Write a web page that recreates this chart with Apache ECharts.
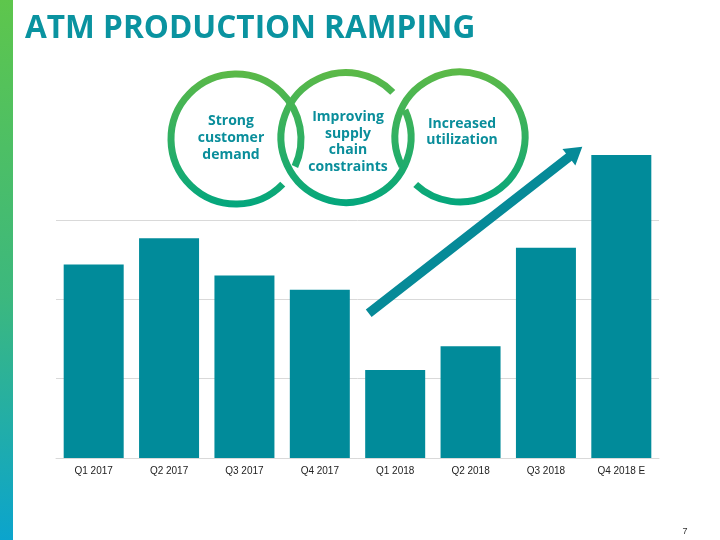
<!DOCTYPE html>
<html>
<head>
<meta charset="utf-8">
<style>
  html, body { margin: 0; padding: 0; background: #ffffff; }
  #chart { width: 720px; height: 540px; }
</style>
<script src="https://cdn.jsdelivr.net/npm/echarts@6/dist/echarts.min.js"></script>
</head>
<body>
<div id="chart"></div>
<script>
// ---- data ----
const categories = ['Q1 2017', 'Q2 2017', 'Q3 2017', 'Q4 2017', 'Q1 2018', 'Q2 2018', 'Q3 2018', 'Q4 2018 E'];
const production = [2.44, 2.77, 2.30, 2.12, 1.11, 1.41, 2.65, 3.82];
const titleText = 'ATM PRODUCTION RAMPING';
const circleTexts = ['Strong\ncustomer\ndemand', 'Improving\nsupply\nchain\nconstraints', 'Increased\nutilization'];
const pageNumber = '7';

const chart = echarts.init(document.getElementById('chart'), null, { renderer: 'canvas' });

const ringGradient = () => new echarts.graphic.LinearGradient(0, 70, 0, 208, [
  { offset: 0, color: '#5cb947' },
  { offset: 1, color: '#02a67e' }
], true);

const deg = d => d * Math.PI / 180;

// rings: center, drawn arc (degrees, clockwise on screen); the missing part is the gap
const rings = [
  { cx: 236, cy: 139, from: 44, to: 385 },
  { cx: 346, cy: 137.5, from: -25, to: 316 },
  { cx: 460, cy: 137, from: 153, to: 493 }
];

const graphics = [];
// left gradient strip
graphics.push({
  type: 'rect', left: 0, top: 0, z: 0,
  shape: { x: 0, y: 0, width: 13, height: 540 },
  style: {
    fill: new echarts.graphic.LinearGradient(0, 0, 0, 1, [
      { offset: 0, color: '#5ec64c' },
      { offset: 0.55, color: '#3cb87e' },
      { offset: 1, color: '#0ba4cd' }
    ])
  }
});
rings.forEach(r => {
  graphics.push({
    type: 'arc', z: 5,
    shape: { cx: r.cx, cy: r.cy, r: 65, startAngle: deg(r.from), endAngle: deg(r.to), clockwise: true },
    style: { stroke: ringGradient(), lineWidth: 7, fill: null }
  });
});
const textCenters = [[231, 138], [348, 142], [462, 132]];
circleTexts.forEach((t, i) => {
  graphics.push({
    type: 'text', z: 6,
    x: textCenters[i][0], y: textCenters[i][1],
    style: {
      text: t, align: 'center', verticalAlign: 'middle',
      font: 'bold 14px "Open Sans"', lineHeight: 16.7, fill: '#0a8e9b'
    }
  });
});
// arrow
(function () {
  const T = [368.7, 313.3], P = [582.3, 146.7];
  const dx = P[0] - T[0], dy = P[1] - T[1];
  const L = Math.sqrt(dx * dx + dy * dy);
  const u = [dx / L, dy / L], n = [-u[1], u[0]];
  const hw = 4.7, hl = 17, hh = 10.5;
  const B = [P[0] - u[0] * hl, P[1] - u[1] * hl];
  const pt = (p, k) => [p[0] + n[0] * k, p[1] + n[1] * k];
  graphics.push({
    type: 'polygon', z: 20,
    shape: { points: [pt(T, hw), pt(B, hw), pt(B, hh), P, pt(B, -hh), pt(B, -hw), pt(T, -hw)] },
    style: { fill: '#068a98' }
  });
})();
graphics.push({
  type: 'text', z: 6, x: 685, y: 532,
  style: { text: pageNumber, align: 'center', verticalAlign: 'middle', font: '9px "Liberation Sans"', fill: '#333333' }
});

const option = {
  animation: false,
  backgroundColor: '#ffffff',
  title: {
    text: titleText, left: 20, top: 8,
    textStyle: { fontFamily: 'Open Sans', fontWeight: 'bold', fontSize: 31.6, color: '#0a93a0' }
  },
  grid: { left: 56, right: 61, top: 140.7, bottom: 82 },
  xAxis: {
    type: 'category', data: categories,
    axisLine: { show: true, lineStyle: { color: '#d9d9d9', width: 1 } },
    axisTick: { show: false },
    axisLabel: { color: '#222222', fontSize: 10, fontFamily: 'Liberation Sans', margin: 8 }
  },
  yAxis: {
    type: 'value', min: 0, max: 4, interval: 1,
    axisLine: { show: false }, axisTick: { show: false }, axisLabel: { show: false },
    splitLine: { show: true, lineStyle: { color: ['#d9d9d9', '#d9d9d9', '#d9d9d9', '#d9d9d9', 'rgba(0,0,0,0)'], width: 1 } }
  },
  series: [{
    type: 'bar', data: production, barWidth: 60,
    itemStyle: { color: '#018b9a' }
  }],
  graphic: graphics
};
chart.setOption(option);
</script>
</body>
</html>
